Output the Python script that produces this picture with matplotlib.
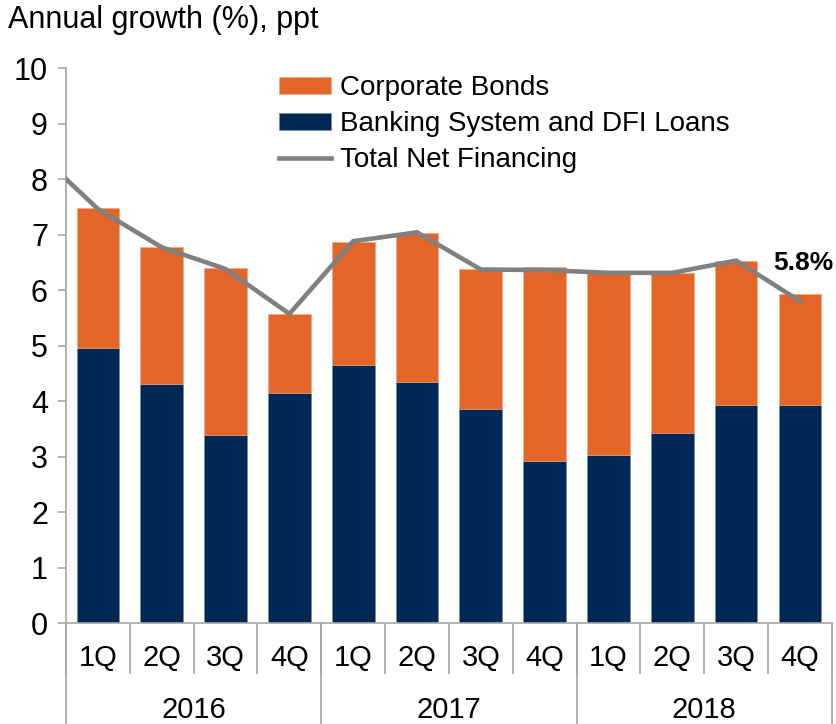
import matplotlib.pyplot as plt
import numpy as np

plt.rcParams['font.family'] = ['Liberation Sans', 'DejaVu Sans']

years = ['2016', '2017', '2018']
quarters = ['1Q', '2Q', '3Q', '4Q'] * 3

# contributions to annual growth, ppt
loans = [4.95, 4.31, 3.38, 4.14, 4.65, 4.35, 3.85, 2.92, 3.03, 3.43, 3.93, 3.93]
bonds = [2.52, 2.47, 3.01, 1.43, 2.21, 2.67, 2.53, 3.50, 3.27, 2.88, 2.59, 1.99]

# total net financing, starting one quarter earlier (4Q 2015)
total = [8.54, 7.46, 6.77, 6.38, 5.57, 6.88, 7.04, 6.37, 6.36, 6.31, 6.31, 6.53, 5.8]

orange = '#e36527'
navy = '#002855'
grey = '#808080'
axis_grey = '#a6a6a6'

fig = plt.figure(figsize=(8.36, 7.24), dpi=100)
ax = fig.add_axes([0.079, 0.1395, 0.916, 0.7665])

x = np.arange(len(loans))
h_loans = ax.bar(x, loans, width=0.67, color=navy, edgecolor='#6d86a3',
                 linewidth=0.4, zorder=2)
h_bonds = ax.bar(x, bonds, width=0.67, bottom=loans, color=orange,
                 edgecolor='#f2a57f', linewidth=0.4, zorder=2)
xl = np.arange(-1, len(loans))
h_total, = ax.plot(xl, total, color=grey, lw=3.3, solid_joinstyle='miter', zorder=3)

ax.annotate(f'{total[-1]:.1f}%', (x[-1], total[-1]), xytext=(3, 38),
            textcoords='offset pixels', ha='center', va='center',
            fontsize=19, fontweight='bold')

ax.set_xlim(-0.5, len(loans) - 0.5)
ax.set_ylim(0, 10)
ax.set_yticks(range(0, 11))
ax.tick_params(axis='y', length=6, width=1.2, color=axis_grey, pad=7, labelsize=22)

# two-level category axis: quarters, then years
ax.set_xticks(np.arange(-0.5, len(loans)), labels=[])
ax.set_xticks(x, labels=quarters, minor=True)
ax.tick_params(axis='x', which='major', length=37, width=1.2, color=axis_grey)
ax.tick_params(axis='x', which='minor', length=0, pad=15, labelsize=21)
trans = ax.get_xaxis_transform()
for i, yr in enumerate(years):
    ax.text(4 * i + 1.5, -0.157, yr, transform=trans, ha='center', va='center',
            fontsize=21)
for b in np.arange(-0.5, len(loans), 4):
    ax.plot([b, b], [0, -0.19], transform=trans, color=axis_grey, lw=1.2,
            clip_on=False)

for s in ['top', 'right']:
    ax.spines[s].set_visible(False)
for s in ['left', 'bottom']:
    ax.spines[s].set_color(axis_grey)
    ax.spines[s].set_linewidth(1.2)

ax.legend([h_bonds, h_loans, h_total],
          ['Corporate Bonds', 'Banking System and DFI Loans', 'Total Net Financing'],
          loc='upper left', bbox_to_anchor=(0.263, 1.007), frameon=False,
          fontsize=20, handlelength=1.9, handleheight=0.55, handletextpad=0.3,
          labelspacing=0.35, borderaxespad=0)

fig.text(0.009, 0.972, 'Annual growth (%), ppt', ha='left', va='center', fontsize=22)

fig.savefig('out.png', dpi=100)
